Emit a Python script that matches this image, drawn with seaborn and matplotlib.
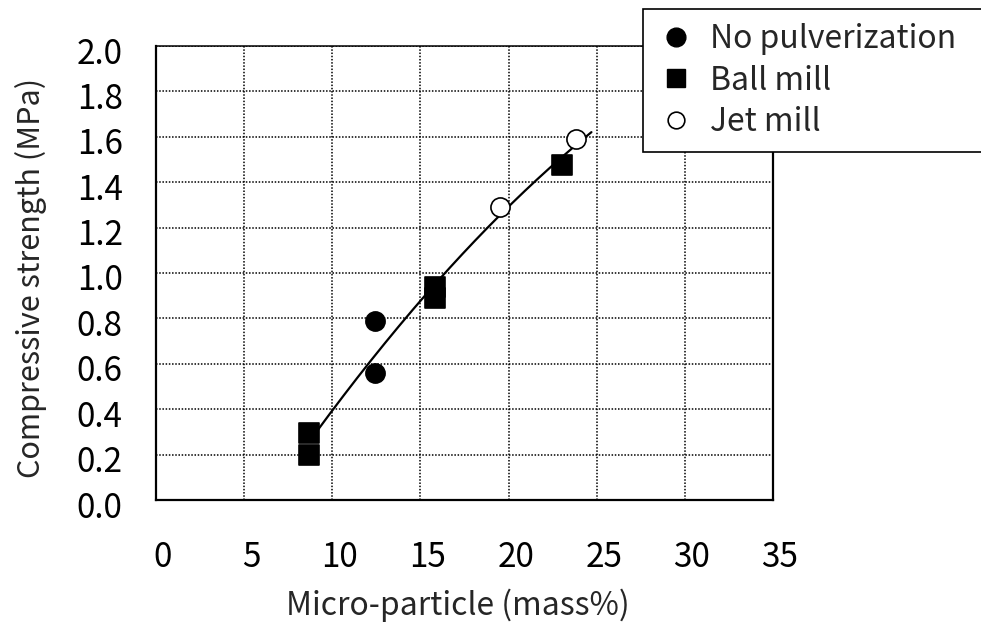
import numpy as np
import pandas as pd
import seaborn as sns
import matplotlib
matplotlib.use("Agg")
import matplotlib.pyplot as plt
from matplotlib.lines import Line2D
from matplotlib.transforms import ScaledTranslation

# Measured compressive strength vs. micro-particle content
no_pulv_x = [12.45, 12.45]
no_pulv_y = [0.79, 0.56]
ball_x = [8.7, 8.7, 15.85, 15.85, 23.05]
ball_y = [0.295, 0.198, 0.94, 0.89, 1.475]
jet_x = [19.5, 23.8]
jet_y = [1.29, 1.59]

series_names = ["No pulverization", "Ball mill", "Jet mill"]
trend_range = [9.05, 24.7]

x_ticks = [0, 5, 10, 15, 20, 25, 30, 35]
y_ticks = [0.0, 0.2, 0.4, 0.6, 0.8, 1.0, 1.2, 1.4, 1.6, 1.8, 2.0]

df = pd.DataFrame({
    "x": no_pulv_x + ball_x + jet_x,
    "y": no_pulv_y + ball_y + jet_y,
    "method": [series_names[0]] * len(no_pulv_x)
    + [series_names[1]] * len(ball_x)
    + [series_names[2]] * len(jet_x),
})

sns.set_style("white")
plt.rcParams["font.family"] = ["Noto Sans CJK JP", "DejaVu Sans"]

DPI = 100
fig = plt.figure(figsize=(9.81, 6.22), dpi=DPI)
W, H = 981, 622
ax = fig.add_axes([156 / W, 1 - 500 / H, (773 - 156) / W, (500 - 46) / H])

# Quadratic trend through all measurements
coef = np.polyfit(df["x"], df["y"], 2)
tx = np.linspace(trend_range[0], trend_range[1], 200)
trend = pd.DataFrame({"x": tx, "y": np.polyval(coef, tx)})
sns.lineplot(data=trend, x="x", y="y", color="black", linewidth=1.6, ax=ax,
             zorder=2, legend=False)

styles = {
    series_names[0]: dict(marker="o", facecolor="black"),
    series_names[1]: dict(marker="s", facecolor="black"),
    series_names[2]: dict(marker="o", facecolor="white"),
}
for name in series_names:
    sub = df[df["method"] == name]
    st = styles[name]
    sns.scatterplot(data=sub, x="x", y="y", marker=st["marker"], color=st["facecolor"],
                    edgecolor="black", linewidth=1.2, s=190, ax=ax, zorder=3,
                    legend=False)

ax.set_xlim(0, 35)
ax.set_ylim(0, 2.0)
ax.set_xticks(x_ticks)
ax.set_yticks(y_ticks)
ax.set_xticklabels([str(v) for v in x_ticks])
ax.set_yticklabels([f"{v:.1f}" for v in y_ticks])

ax.grid(True, color="black", linestyle=(0, (1, 1.1)), linewidth=1.1)
ax.set_axisbelow(True)

for side in ["left", "bottom", "right"]:
    ax.spines[side].set_linewidth(1.6)
    ax.spines[side].set_color("black")
ax.spines["top"].set_linewidth(1.1)
ax.spines["top"].set_color("black")

ax.tick_params(axis="both", direction="in", length=7, width=1.5, colors="black",
               labelsize=24)
ax.tick_params(axis="x", pad=29)
ax.tick_params(axis="y", pad=24)

for lab in ax.get_xticklabels():
    lab.set_transform(lab.get_transform() + ScaledTranslation(7 / DPI, 0, fig.dpi_scale_trans))
for lab in ax.get_yticklabels():
    lab.set_transform(lab.get_transform() + ScaledTranslation(0, -4 / DPI, fig.dpi_scale_trans))

ax.set_xlabel("Micro-particle (mass%)", fontsize=23)
ax.set_ylabel("Compressive strength (MPa)", fontsize=22)
ax.xaxis.label.set_va("center")
ax.yaxis.label.set_va("center")
ax.xaxis.set_label_coords(0.49, -(605 - 500) / 454)
ax.yaxis.set_label_coords(-(156 - 31) / 617, 0.49)

handles = [
    Line2D([], [], linestyle="none", marker="o", markersize=13.5, markerfacecolor="black",
           markeredgecolor="black"),
    Line2D([], [], linestyle="none", marker="s", markersize=12.5, markerfacecolor="black",
           markeredgecolor="black"),
    Line2D([], [], linestyle="none", marker="o", markersize=12, markerfacecolor="white",
           markeredgecolor="black", markeredgewidth=1.2),
]
# Legend box runs past the right edge of the figure
leg = fig.legend(handles, series_names, loc="upper left", mode="expand",
                 bbox_to_anchor=(643 / W, 1 - 9 / H, 360 / W, 0),
                 bbox_transform=fig.transFigure,
                 borderaxespad=0, frameon=True, fancybox=False, shadow=False,
                 edgecolor="black", framealpha=1, fontsize=23, handlelength=1.2,
                 handletextpad=0.47, borderpad=0.44, labelspacing=0.3)
leg.get_frame().set_linewidth(1.2)

fig.savefig("out.png", dpi=DPI)
